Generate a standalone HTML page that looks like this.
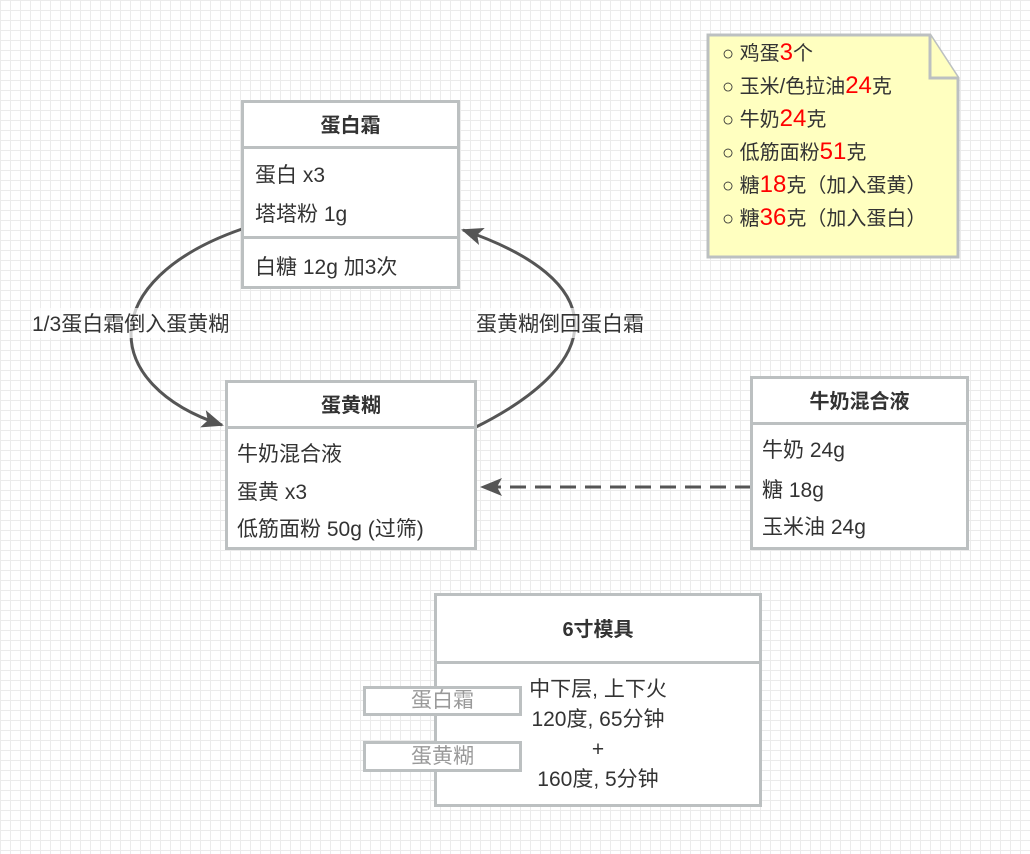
<!DOCTYPE html>
<html><head><meta charset="utf-8"><style>
body{margin:0;width:1030px;height:854px;overflow:hidden;background-color:#fff;
background-image:linear-gradient(#ebebeb 1px,transparent 1px),linear-gradient(90deg,#ebebeb 1px,transparent 1px);background-size:10px 10px;
font-family:"Liberation Sans","Noto Sans CJK SC",sans-serif;color:#333;font-size:21px;position:relative}
.b{position:absolute;border:3px solid #bcc0c1;background:#fff;box-sizing:border-box}
.h{position:absolute;left:0;right:0;top:0;border-bottom:3px solid #bcc0c1;font-weight:bold;text-align:center;box-sizing:border-box;font-size:20px}
.t{position:absolute;white-space:nowrap}
.r{color:#f00;font-size:24px}
</style></head><body>
<svg width="1030" height="854" style="position:absolute;left:0;top:0">
<defs><marker id="c" markerWidth="22" markerHeight="18" refX="20" refY="9" orient="auto" markerUnits="userSpaceOnUse"><path d="M0,0 L22,9 L0,18 L5,9z" fill="#555"/></marker></defs>
<path d="M242,229 C95,280 100,385 222,425" fill="none" stroke="#555" stroke-width="3" marker-end="url(#c)"/>
<path d="M476,427 C610,360 610,280 463,230" fill="none" stroke="#555" stroke-width="3" marker-end="url(#c)"/>
<path d="M751,487 L482,487" fill="none" stroke="#555" stroke-width="3" stroke-dasharray="16,9" marker-end="url(#c)"/>
<path d="M708,35 L930,35 L958,78 L958,257 L708,257z" fill="#ffffc0" stroke="#bcc0c1" stroke-width="3"/>
<path d="M930,35 L930,78 L958,78" fill="#ffffc0" stroke="#bcc0c1" stroke-width="3"/>
</svg>
<div class="b" style="left:241px;top:100px;width:219px;height:189px">
<div class="h" style="height:46px;line-height:46px">蛋白霜</div>
<div class="t" style="left:11px;top:56px">蛋白 x3</div>
<div class="t" style="left:11px;top:95px">塔塔粉 1g</div>
<div style="position:absolute;left:0;right:0;top:133px;border-top:3px solid #bcc0c1"></div>
<div class="t" style="left:11px;top:148px">白糖 12g 加3次</div>
</div>
<div class="b" style="left:225px;top:380px;width:252px;height:170px">
<div class="h" style="height:46px;line-height:46px">蛋黄糊</div>
<div class="t" style="left:9px;top:55px">牛奶混合液</div>
<div class="t" style="left:9px;top:93px">蛋黄 x3</div>
<div class="t" style="left:9px;top:130px">低筋面粉 50g (过筛)</div>
</div>
<div class="b" style="left:750px;top:376px;width:219px;height:174px">
<div class="h" style="height:46px;line-height:46px">牛奶混合液</div>
<div class="t" style="left:9px;top:55px">牛奶 24g</div>
<div class="t" style="left:9px;top:95px">糖 18g</div>
<div class="t" style="left:9px;top:132px">玉米油 24g</div>
</div>
<div class="b" style="left:434px;top:593px;width:328px;height:214px">
<div class="h" style="height:68px;line-height:68px">6寸模具</div>
<div class="t" style="left:0;right:0;text-align:center;top:79px;line-height:30px">中下层, 上下火<br>120度, 65分钟<br>+<br>160度, 5分钟</div>
</div>
<div class="b" style="left:363px;top:686px;width:159px;height:30px;color:#999;text-align:center;line-height:24px">蛋白霜</div>
<div class="b" style="left:363px;top:741px;width:159px;height:31px;color:#999;text-align:center;line-height:25px">蛋黄糊</div>
<div class="t" style="left:32px;top:308px;background:rgba(255,255,255,.7);font-size:21px">1/3蛋白霜倒入蛋黄糊</div>
<div class="t" style="left:476px;top:308px;background:rgba(255,255,255,.7);font-size:21px">蛋黄糊倒回蛋白霜</div>
<div class="t" style="left:722px;top:37px;line-height:32px;font-size:20px">
○ 鸡蛋<span class="r">3</span>个<br>○ 玉米/色拉油<span class="r">24</span>克<br>○ 牛奶<span class="r">24</span>克<br>○ 低筋面粉<span class="r">51</span>克<br>○ 糖<span class="r">18</span>克（加入蛋黄）<br>○ 糖<span class="r">36</span>克（加入蛋白）
</div>
</body></html>
